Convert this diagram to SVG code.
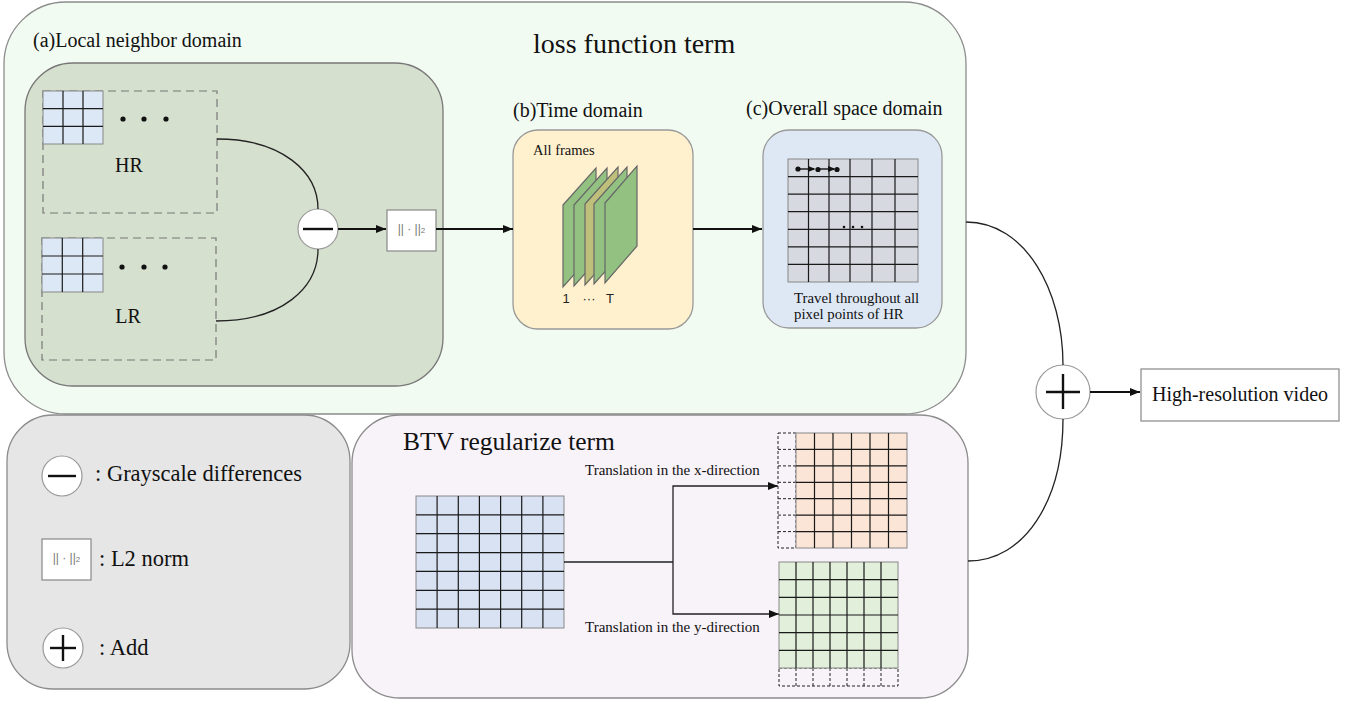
<svg xmlns="http://www.w3.org/2000/svg" width="1354" height="706" viewBox="0 0 1354 706">
<defs>
<style>
.serif{font-family:"Liberation Serif","Times New Roman",serif;fill:#111}
.sans{font-family:"Liberation Sans",Arial,sans-serif;fill:#222}
.card{stroke:#8c8c8c;stroke-width:1.3}
.gl{stroke:#1a1a1a;stroke-width:1.2;fill:none}
.gb{stroke:#888;stroke-width:1;}
.dash{stroke:#222;stroke-width:1;stroke-dasharray:3,2;fill:none}
.conn{stroke:#222;stroke-width:1.3;fill:none}
.arr{stroke:#111;stroke-width:2;fill:none}
.op{fill:#fff;stroke:#999;stroke-width:1.2}
.opl{stroke:#111;stroke-width:2.4}
.norm{fill:#fff;stroke:#888;stroke-width:1.2}
.normt{font-family:"Liberation Sans",Arial,sans-serif;font-size:12px;fill:#777}
.frame{stroke:#666;stroke-width:1.2}
</style>
<marker id="ah" viewBox="0 0 10 8" refX="10" refY="4" markerWidth="10" markerHeight="8" markerUnits="userSpaceOnUse" orient="auto">
<path d="M0,0 L10,4 L0,8 Z" fill="#111"/>
</marker>
<marker id="ahs" viewBox="0 0 10 8" refX="8" refY="4" markerWidth="8" markerHeight="7" markerUnits="userSpaceOnUse" orient="auto">
<path d="M0,0 L10,4 L0,8 Z" fill="#111"/>
</marker>
</defs>

<g id="loss-term">
<rect x="4" y="2" width="962" height="412" rx="62" ry="62" fill="#F2FBF1" class="card"/>
<text x="533" y="53" class="serif" font-size="28">loss function term</text>
</g>

<g id="local-domain">
<text x="33" y="47" class="serif" font-size="20">(a)Local neighbor domain</text>
<rect x="25" y="63" width="418" height="323" rx="48" ry="48" fill="#D6E0CF" stroke="#777" stroke-width="1.3"/>
</g>

<g id="hr-block">
<rect x="43" y="91" width="174" height="122" fill="none" stroke="#777" stroke-width="1.2" stroke-dasharray="8,5"/>
<rect x="43" y="91" width="60" height="53" fill="#DCE8F5" class="gb"/>
<path class="gl" d="M63,91V144M83,91V144M43,108.7H103M43,126.3H103"/>
<circle cx="123" cy="119" r="2.6" fill="#111"/>
<circle cx="144" cy="119" r="2.6" fill="#111"/>
<circle cx="166" cy="119" r="2.6" fill="#111"/>
<text x="129" y="172" class="serif" font-size="20" text-anchor="middle">HR</text>
</g>

<g id="lr-block">
<rect x="42" y="238" width="174" height="122" fill="none" stroke="#777" stroke-width="1.2" stroke-dasharray="8,5"/>
<rect x="42" y="238" width="61" height="54" fill="#DCE8F5" class="gb"/>
<path class="gl" d="M62.3,238V292M82.7,238V292M42,256H103M42,274H103"/>
<circle cx="122" cy="267" r="2.6" fill="#111"/>
<circle cx="144" cy="267" r="2.6" fill="#111"/>
<circle cx="165" cy="267" r="2.6" fill="#111"/>
<text x="128" y="323" class="serif" font-size="20" text-anchor="middle">LR</text>
</g>

<g id="minus-op">
<circle cx="318" cy="229" r="20" class="op"/>
<line x1="303" y1="229" x2="333" y2="229" class="opl"/>
</g>

<g id="norm-op">
<rect x="387" y="210" width="49" height="41" class="norm"/>
<text x="411.5" y="233" class="normt" text-anchor="middle">|| · ||<tspan font-size="8">2</tspan></text>
</g>

<g id="time-domain">
<text x="513" y="117" class="serif" font-size="20">(b)Time domain</text>
<rect x="513" y="130" width="180" height="199" rx="25" ry="25" fill="#FFF1CE" stroke="#999" stroke-width="1.3"/>
<text x="533" y="155" class="serif" font-size="14.5">All frames</text>
<polygon class="frame" fill="#93C182" points="563,205 596,168 596,250 563,287"/>
<polygon class="frame" fill="#93C182" points="574,205 607,168 607,249 574,286"/>
<polygon class="frame" fill="#BDBF7B" points="585,204 618,167 618,248 585,285"/>
<polygon class="frame" fill="#93C182" points="594,204 627,167 627,247 594,284"/>
<polygon class="frame" fill="#93C182" points="605,203 637,166 637,246 605,283"/>
<text x="566" y="303" class="sans" font-size="13" text-anchor="middle">1</text>
<text x="589" y="303" class="sans" font-size="13" text-anchor="middle">···</text>
<text x="610" y="303" class="sans" font-size="13" text-anchor="middle">T</text>
</g>

<g id="space-domain">
<text x="746" y="115" class="serif" font-size="20">(c)Overall space domain</text>
<rect x="763" y="130" width="179" height="198" rx="26" ry="26" fill="#DEE8F5" stroke="#999" stroke-width="1.3"/>
<rect x="788" y="159" width="130" height="123" fill="#D6D9E0" class="gb"/>
<path class="gl" d="M808.5,159V282M829,159V282M850,159V282M872,159V282M895,159V282M788,176.6H918M788,194.1H918M788,211.7H918M788,229.3H918M788,246.9H918M788,264.4H918"/>
<line x1="798" y1="169" x2="814" y2="169" stroke="#111" stroke-width="1.4" marker-end="url(#ahs)"/>
<line x1="818" y1="169" x2="834" y2="169" stroke="#111" stroke-width="1.4" marker-end="url(#ahs)"/>
<circle cx="798" cy="169" r="2.6" fill="#111"/>
<circle cx="818" cy="169.5" r="2.6" fill="#111"/>
<circle cx="837" cy="169.5" r="2.6" fill="#111"/>
<circle cx="844" cy="227" r="1.3" fill="#111"/>
<circle cx="853" cy="227" r="1.3" fill="#111"/>
<circle cx="862" cy="227" r="1.3" fill="#111"/>
<text x="794" y="303" class="serif" font-size="14.8">Travel throughout all</text>
<text x="794" y="319" class="serif" font-size="14.8">pixel points of HR</text>
</g>

<g id="legend">
<rect x="7" y="415" width="343" height="274" rx="46" ry="46" fill="#E6E6E6" class="card"/>
<circle cx="62" cy="476" r="20" class="op"/>
<line x1="48" y1="476" x2="76" y2="476" class="opl"/>
<text x="95" y="481" class="serif" font-size="22.5">: Grayscale differences</text>
<rect x="42" y="539" width="49" height="41" class="norm"/>
<text x="66.5" y="562" class="normt" text-anchor="middle">|| · ||<tspan font-size="8">2</tspan></text>
<text x="99" y="566" class="serif" font-size="22.5">: L2 norm</text>
<circle cx="63" cy="648" r="20" class="op"/>
<line x1="50" y1="648" x2="76" y2="648" class="opl"/>
<line x1="63" y1="635" x2="63" y2="661" class="opl"/>
<text x="99" y="655" class="serif" font-size="22.5">: Add</text>
</g>

<g id="btv-term">
<rect x="352" y="415" width="616" height="283" rx="48" ry="48" fill="#F8F2F9" class="card"/>
<text x="403" y="450" class="serif" font-size="25.5">BTV regularize term</text>
</g>

<g id="btv-grid">
<rect x="416" y="496" width="148" height="132" fill="#D9E2F3" class="gb"/>
<path class="gl" d="M437.1,496V628M458.3,496V628M479.4,496V628M500.6,496V628M521.7,496V628M542.9,496V628M416,514.9H564M416,533.7H564M416,552.6H564M416,571.4H564M416,590.3H564M416,609.1H564"/>
</g>

<g id="x-shift-grid">
<rect x="778" y="433" width="18" height="115" class="dash"/>
<path class="dash" d="M778,449.4H796M778,465.9H796M778,482.3H796M778,498.7H796M778,515.1H796M778,531.6H796"/>
<rect x="796" y="433" width="111" height="115" fill="#FBE5D6" class="gb"/>
<path class="gl" d="M814.5,433V548M833,433V548M851.5,433V548M870,433V548M888.5,433V548M796,449.4H907M796,465.9H907M796,482.3H907M796,498.7H907M796,515.1H907M796,531.6H907"/>
<text x="585" y="475" class="serif" font-size="15">Translation in the x-direction</text>
</g>

<g id="y-shift-grid">
<rect x="779" y="668" width="119" height="18" class="dash"/>
<path class="dash" d="M796,668V686M813,668V686M830,668V686M847,668V686M864,668V686M881,668V686"/>
<rect x="779" y="562" width="119" height="106" fill="#E2EFDA" class="gb"/>
<path class="gl" d="M796,562V668M813,562V668M830,562V668M847,562V668M864,562V668M881,562V668M779,579.7H898M779,597.3H898M779,615H898M779,632.7H898M779,650.3H898"/>
<text x="585" y="632" class="serif" font-size="15">Translation in the y-direction</text>
</g>

<g id="add-op">
<circle cx="1063" cy="392" r="27" class="op"/>
<line x1="1046" y1="392" x2="1080" y2="392" class="opl"/>
<line x1="1063" y1="374" x2="1063" y2="409" class="opl"/>
</g>

<g id="output">
<rect x="1141" y="369" width="198" height="52" fill="#fff" stroke="#888" stroke-width="1.2"/>
<text x="1240" y="401" class="serif" font-size="20" text-anchor="middle">High-resolution video</text>
</g>

<g id="connectors">
<path class="conn" d="M217,139 C282,139 318,172 318,209"/>
<path class="conn" d="M216,321 C282,321 318,288 318,249"/>
<line x1="338" y1="229" x2="386" y2="229" class="arr" marker-end="url(#ah)"/>
<line x1="436" y1="229" x2="513" y2="229" class="arr" marker-end="url(#ah)"/>
<line x1="693" y1="229" x2="762" y2="229" class="arr" marker-end="url(#ah)"/>
<path class="conn" d="M966,222 C1025,222 1063,290 1063,365"/>
<path class="conn" d="M968,561 C1025,561 1063,500 1063,419"/>
<line x1="1090" y1="392" x2="1140" y2="392" class="arr" marker-end="url(#ah)"/>
<polyline class="conn" points="564,562 673,562"/>
<polyline class="conn" points="777,486 673,486 673,614 777,614" stroke-width="1.5"/>
<line x1="770" y1="486" x2="778" y2="486" class="conn" marker-end="url(#ah)"/>
<line x1="770" y1="614" x2="779" y2="614" class="conn" marker-end="url(#ah)"/>
</g>
</svg>
